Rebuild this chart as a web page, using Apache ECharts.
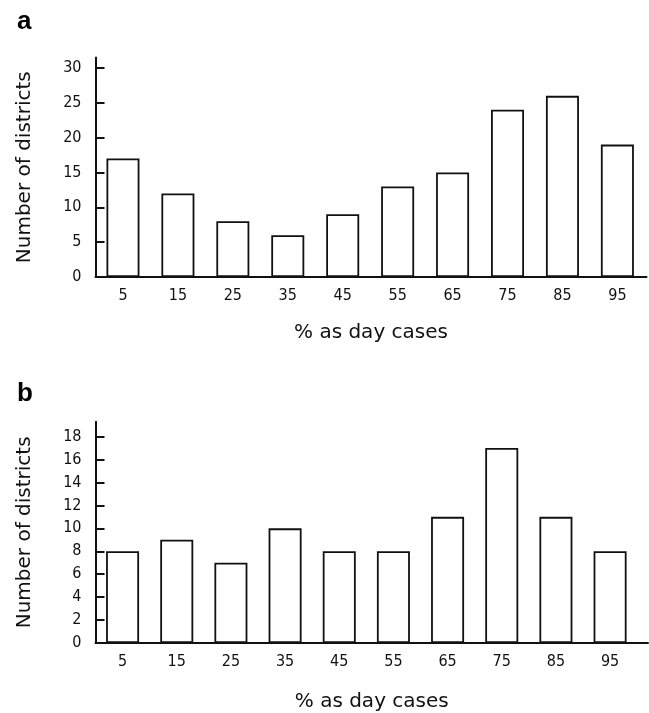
<!DOCTYPE html>
<html lang="en">
<head>
  <meta charset="UTF-8">
  <title>Day cases by district</title>
  <script src="https://cdn.jsdelivr.net/npm/echarts@6/dist/echarts.min.js"></script>
  <style>
    html,body{margin:0;padding:0;background:#fff;}
    #main{width:649px;height:713px;}
  </style>
</head>
<body>
  <div id="main"></div>
  <script>
    // bins (% as day cases) and counts per panel
    var binLabels = [5, 15, 25, 35, 45, 55, 65, 75, 85, 95];
    var districtsA = [17, 12, 8, 6, 9, 13, 15, 24, 26, 19];
    var districtsB = [8, 9, 7, 10, 8, 8, 11, 17, 11, 8];
    var yTicksA = [0, 5, 10, 15, 20, 25, 30];
    var yTicksB = [0, 2, 4, 6, 8, 10, 12, 14, 16, 18];

    var ink = '#111';
    var tickFont = 'DejaVu Sans Condensed';
    var nameFont = 'DejaVu Sans';

    function pairs(vals){
      var out = [];
      for(var i=0;i<binLabels.length;i++){
        out.push([binLabels[i], vals[i]]);
      }
      return out;
    }

    function xAxisFor(gridIndex, max, gap){
      return {
        gridIndex: gridIndex,
        type: 'value',
        min: 0,
        max: max,
        name: '% as day cases',
        nameLocation: 'middle',
        nameGap: gap,
        nameTextStyle: {color: ink, fontFamily: nameFont, fontSize: 20},
        axisLine: {show: true, lineStyle: {color: ink, width: 2}},
        axisTick: {show: false},
        splitLine: {show: false},
        axisLabel: {
          customValues: binLabels,
          color: ink, fontFamily: tickFont, fontSize: 16, margin: 11
        }
      };
    }

    function yAxisFor(gridIndex, max, ticks){
      return {
        gridIndex: gridIndex,
        type: 'value',
        min: 0,
        max: max,
        name: 'Number of districts',
        nameLocation: 'middle',
        nameGap: 61,
        nameTextStyle: {color: ink, fontFamily: nameFont, fontSize: 20},
        axisLine: {show: true, lineStyle: {color: ink, width: 2}},
        axisTick: {show: true, inside: true, length: 9, customValues: ticks, lineStyle: {color: ink, width: 2}},
        splitLine: {show: false},
        axisLabel: {
          customValues: ticks,
          color: ink, fontFamily: tickFont, fontSize: 16, margin: 14
        }
      };
    }

    function barSeries(idx, vals){
      return {
        type: 'bar',
        xAxisIndex: idx,
        yAxisIndex: idx,
        data: pairs(vals),
        barWidth: 33,
        silent: true,
        itemStyle: {color: '#fff', borderColor: ink, borderWidth: 1.8}
      };
    }

    var myChart = echarts.init(document.getElementById('main'), null, {renderer: 'canvas'});
    var option = {
      animation: false,
      backgroundColor: '#fff',
      title: [
        {text: 'a', left: 12, top: 4, textStyle: {color: '#000', fontFamily: 'Liberation Sans', fontWeight: 'bold', fontSize: 26}},
        {text: 'b', left: 12, top: 376, textStyle: {color: '#000', fontFamily: 'Liberation Sans', fontWeight: 'bold', fontSize: 26}}
      ],
      grid: [
        {left: 95.5, top: 57.5, width: 551, height: 219.5},
        {left: 95.5, top: 421.7, width: 552.5, height: 222.3}
      ],
      xAxis: [xAxisFor(0, 100.3, 46), xAxisFor(1, 102, 49)],
      yAxis: [yAxisFor(0, 31.5, yTicksA), yAxisFor(1, 19.3, yTicksB)],
      series: [barSeries(0, districtsA), barSeries(1, districtsB)]
    };
    myChart.setOption(option);
  </script>
</body>
</html>
